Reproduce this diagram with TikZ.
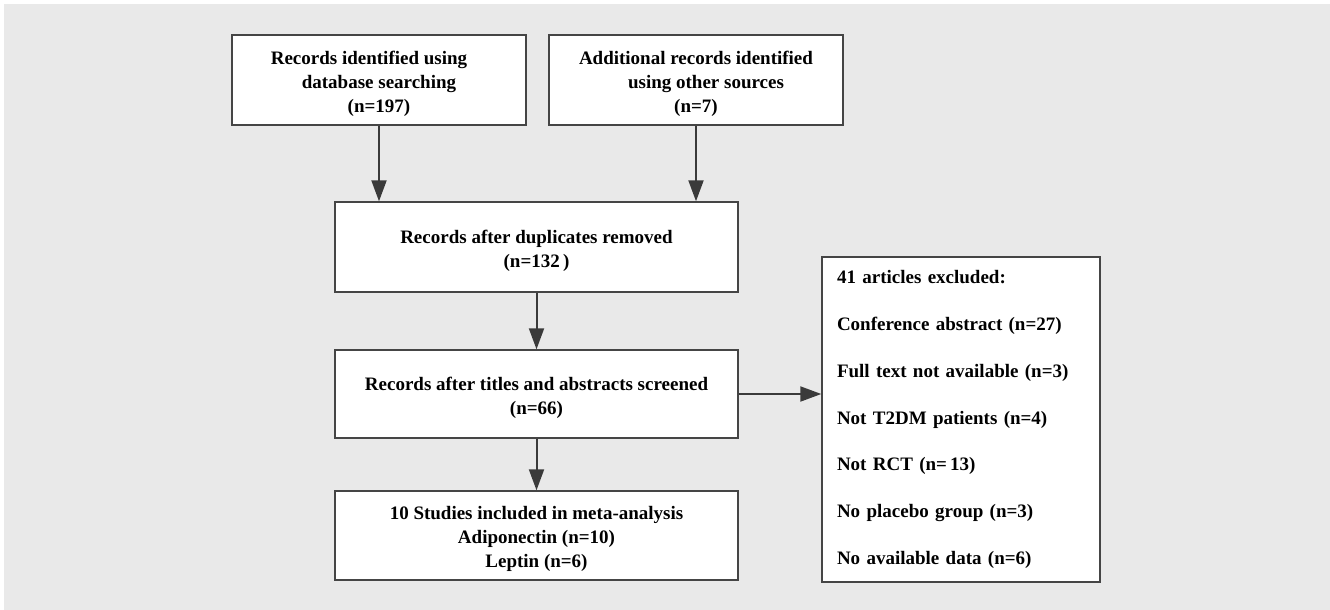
\documentclass[tikz,border=0pt]{standalone}
\usepackage{fontspec}
\setmainfont{Liberation Serif}
\usetikzlibrary{arrows.meta}
\definecolor{bgc}{HTML}{E9E9E9}
\definecolor{edge}{HTML}{454545}
\definecolor{arrc}{HTML}{3A3A3A}
\tikzset{
  box/.style={draw=edge, line width=1.4pt, fill=white, inner sep=0pt},
  txt/.style={align=center, font=\bfseries\fontsize{19}{24}\selectfont,
    inner sep=0pt, yshift=-3.5pt},
  arr/.style={draw=arrc, line width=2pt, -{Triangle[length=21pt,width=15pt]}}
}
\begin{document}
\begin{tikzpicture}[x=1pt,y=-1pt]
\useasboundingbox (0,0) rectangle (1330,610);
\fill[bgc] (4,4) rectangle (1330,610);
\node[box, minimum width=294pt, minimum height=90pt,
  label={[txt]center:{Records identified using\hspace*{20pt}\\database searching\\(n=197)}}]
  (a) at (379,80) {};
\node[box, minimum width=294pt, minimum height=90pt,
  label={[txt]center:{Additional records identified\\\hspace*{20pt}using other sources\\(n=7)}}]
  (b) at (696,80) {};
\node[box, minimum width=403pt, minimum height=90pt,
  label={[txt]center:{Records after duplicates removed\\(n=132\,)}}]
  (c) at (536.5,247) {};
\node[box, minimum width=403pt, minimum height=88pt,
  label={[txt]center:{Records after titles and abstracts screened\\(n=66)}}]
  (d) at (536.5,394) {};
\node[box, minimum width=403pt, minimum height=89pt,
  label={[txt]center:{10 Studies included in meta-analysis\\Adiponectin (n=10)\\Leptin (n=6)}}]
  (e) at (536.5,535.5) {};
\node[box, minimum width=278pt, minimum height=325pt, text width=248pt,
  align=left, font=\bfseries\fontsize{19}{46.7}\selectfont] (f) at (961,419.5)
  {41 articles excluded:\\
   Conference abstract (n=27)\\
   Full text not available (n=3)\\
   Not T2DM patients (n=4)\\
   Not RCT (n=\,13)\\
   No placebo group (n=3)\\
   No available data (n=6)};
\draw[arr] (a.south) -- (a.south |- c.north);
\draw[arr] (b.south) -- (b.south |- c.north);
\draw[arr] (c.south) -- (d.north);
\draw[arr] (d.south) -- (e.north);
\draw[arr] (d.east) -- (f.west |- d.east);
\end{tikzpicture}
\end{document}
